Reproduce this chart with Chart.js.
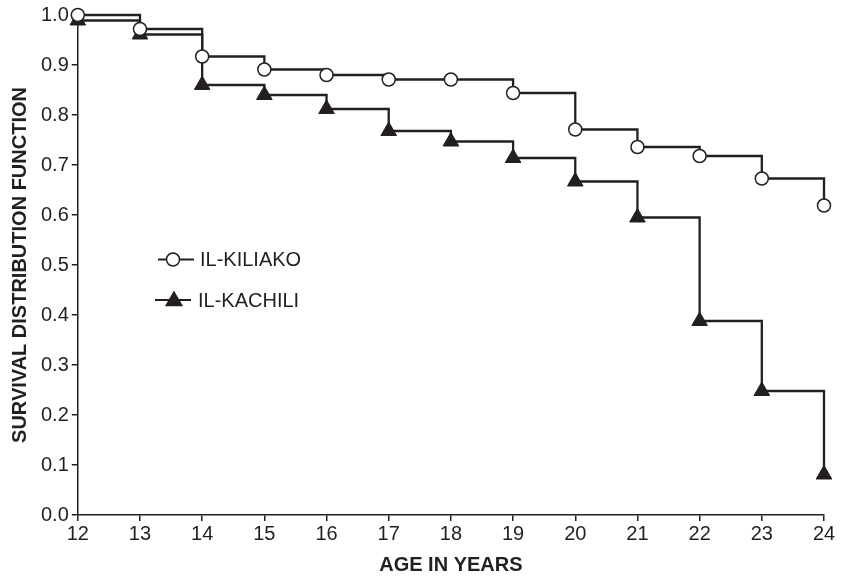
<!DOCTYPE html>
<html>
<head>
<meta charset="utf-8">
<script src="https://cdn.jsdelivr.net/npm/chart.js@4/dist/chart.umd.min.js"></script>
<style>
html,body{margin:0;padding:0;background:#fff;}
#c{display:block;}
</style>
</head>
<body>
<canvas id="c" width="842" height="577"></canvas>
<script>
const ages = [12,13,14,15,16,17,18,19,20,21,22,23,24];
const kiliako = [1.0,0.972,0.917,0.891,0.880,0.871,0.871,0.844,0.771,0.736,0.718,0.673,0.619];
const kachili = [0.989,0.961,0.860,0.840,0.812,0.768,0.747,0.714,0.667,0.595,0.388,0.248,0.081];
const seriesNames = ['IL-KILIAKO','IL-KACHILI'];
const xTitle = 'AGE IN YEARS';
const yTitle = 'SURVIVAL DISTRIBUTION FUNCTION';

const ink = '#231f20';
const FONT = "'Liberation Sans', Arial, Helvetica, sans-serif";

const toPts = (vals) => ages.map((a,i)=>({x:a,y:vals[i]}));

const legendPlugin = {
  id:'insideLegend',
  afterDatasetsDraw(chart){
    const ctx = chart.ctx;
    const items = [
      {ds:0, x:158, y:259.5, mx:173, tx:200},
      {ds:1, x:155, y:300, mx:174, tx:198}
    ];
    ctx.save();
    items.forEach(it=>{
      const ds = chart.data.datasets[it.ds];
      ctx.strokeStyle = ink; ctx.lineWidth = 2;
      ctx.beginPath(); ctx.moveTo(it.x, it.y); ctx.lineTo(it.x+36, it.y); ctx.stroke();
      ctx.fillStyle = ds.pointBackgroundColor;
      ctx.strokeStyle = ink; ctx.lineWidth = 1.5;
      Chart.helpers.drawPoint(ctx, {pointStyle: ds.pointStyle, radius: ds.pointRadius, borderWidth:1.5}, it.mx, it.y + (ds.pointStyle==='triangle'?1:0));
      ctx.fillStyle = ink;
      ctx.font = '20px ' + FONT;
      ctx.textBaseline = 'middle';
      ctx.textAlign = 'left';
      ctx.fillText(ds.label, it.tx, it.y+1);
    });
    ctx.restore();
  }
};

new Chart(document.getElementById('c'), {
  type:'line',
  data:{
    datasets:[
      {label:seriesNames[0], data:toPts(kiliako), stepped:true, borderColor:ink, borderWidth:2.3,
       pointStyle:'circle', pointRadius:6.5, pointBackgroundColor:'#ffffff', pointBorderColor:ink, pointBorderWidth:1.5, clip:false, fill:false},
      {label:seriesNames[1], data:toPts(kachili), stepped:true, borderColor:ink, borderWidth:2.3,
       pointStyle:'triangle', pointRadius:9, pointBackgroundColor:ink, pointBorderColor:ink, pointBorderWidth:1, clip:false, fill:false}
    ]
  },
  options:{
    responsive:false,
    animation:false,
    devicePixelRatio:1,
    layout:{padding:{top:0,right:18,left:8,bottom:0}},
    plugins:{legend:{display:false}, tooltip:{enabled:false}},
    scales:{
      x:{type:'linear', min:12, max:24,
        ticks:{stepSize:1, color:ink, font:{family:FONT,size:20}, padding:1, maxRotation:0},
        grid:{drawOnChartArea:false, drawTicks:true, tickLength:6, color:ink, lineWidth:1.5},
        border:{display:true, color:ink, width:1.5},
        title:{display:true, text:xTitle, color:ink, font:{family:FONT,size:20,weight:'bold'}, padding:{top:6,bottom:0}}
      },
      y:{type:'linear', min:0, max:1,
        ticks:{stepSize:0.1, color:ink, font:{family:FONT,size:20}, padding:3, callback:v=>Number(v).toFixed(1)},
        grid:{drawOnChartArea:false, drawTicks:true, tickLength:6, color:ink, lineWidth:1.5},
        border:{display:true, color:ink, width:1.5},
        title:{display:true, text:yTitle, color:ink, font:{family:FONT,size:20,weight:'bold'}, padding:{top:0,bottom:6}}
      }
    }
  },
  plugins:[legendPlugin]
});
</script>
</body>
</html>
